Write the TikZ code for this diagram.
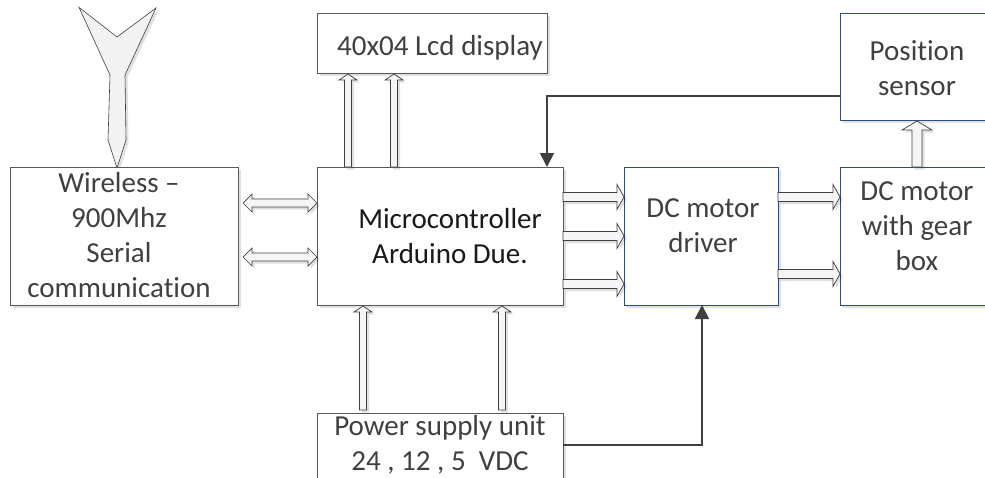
\documentclass[tikz,border=0pt]{standalone}
\usepackage{fontspec}
\setmainfont{Carlito}[Ligatures=CommonOff]
\usetikzlibrary{calc,shadows,arrows.meta}
\definecolor{txt}{HTML}{404040}
\definecolor{blu}{HTML}{2F4B85}
\definecolor{shaftfill}{HTML}{F5F5F5}
\tikzset{
  x=1pt,y=-1pt,
  softshadow/.style={drop shadow={shadow xshift=2.5pt,shadow yshift=-2.5pt,opacity=.12,fill=black}},
  boxg/.style={draw=black!65,line width=.8pt,fill=white,softshadow,anchor=north west,inner sep=0pt},
  boxb/.style={boxg,draw=blu},
  lbl/.style={font=\fontsize{29}{35}\selectfont,text=txt,align=center,inner sep=0pt},
  block/.style={draw=txt,line width=.7pt,fill=shaftfill,line join=miter,softshadow},
  thinarrow/.style={draw=txt,line width=2pt,-{Triangle[length=14pt,width=14pt]}},
}
% #1 from, #2 to, #3 half shaft, #4 half head, #5 head length
\newcommand{\blockarrow}[5]{%
  \coordinate (hb) at ($(#2)!#5!(#1)$);
  \draw[block]
    ($(#1)!#3!90:(#2)$) -- ($(hb)!#3!90:(#2)$) -- ($(hb)!#4!90:(#2)$) -- (#2)
    -- ($(hb)!#4!-90:(#2)$) -- ($(hb)!#3!-90:(#2)$) -- ($(#1)!#3!-90:(#2)$) -- cycle;}
\newcommand{\dblarrow}[5]{%
  \coordinate (ha) at ($(#1)!#5!(#2)$);
  \coordinate (hb) at ($(#2)!#5!(#1)$);
  \draw[block]
    (#1) -- ($(ha)!#4!90:(#2)$) -- ($(ha)!#3!90:(#2)$) -- ($(hb)!#3!-90:(#1)$) -- ($(hb)!#4!-90:(#1)$) -- (#2)
    -- ($(hb)!#4!90:(#1)$) -- ($(hb)!#3!90:(#1)$) -- ($(ha)!#3!-90:(#2)$) -- ($(ha)!#4!-90:(#2)$) -- cycle;}
\begin{document}
\begin{tikzpicture}
\useasboundingbox (0,0) rectangle (985,477);
\clip (0,0) rectangle (985,477);
% antenna
\draw[block,line width=.6pt,fill=black!5] (79,7.3) -- (117,37) -- (156,8) -- (125,75) -- (126,140) -- (117,168) -- (108,140) -- (110,75) -- cycle;
% boxes
\node[boxg,minimum width=228pt,minimum height=138pt] (wl) at (10,167) {};
\node[boxg,minimum width=230pt,minimum height=60pt] (lcd) at (317,13) {};
\node[boxg,minimum width=246pt,minimum height=138pt] (mc) at (317,167) {};
\node[boxb,minimum width=154pt,minimum height=138pt] (drv) at (624,167) {};
\node[boxb,minimum width=170pt,minimum height=138pt] (mot) at (840,167) {};
\node[boxb,minimum width=170pt,minimum height=107pt] (pos) at (840,13) {};
\node[boxg,minimum width=246pt,minimum height=90pt] (psu) at (317,413) {};
% labels
\node[lbl] (wlt) at (119,235) {Wireless --\\900Mhz\\Serial\\communication};
\node[lbl] (lcdt) at (440,48) {40x04 Lcd display};
\node[lbl,text=black!90] (mct) at (450,236) {Microcontroller\\Arduino Due.};
\node[lbl] (drvt) at (703,226) {DC motor\\driver};
\node[lbl] (mott) at (917,226) {DC motor\\with gear\\box};
\node[lbl] (post) at (917,68) {Position\\sensor};
\node[lbl] (psut) at (440,445) {Power supply unit\\24 , 12 , 5 \ VDC};
% block arrow endpoints
\coordinate (a1s) at (348,167); \coordinate (a1e) at (348,74);
\coordinate (a2s) at (394,167); \coordinate (a2e) at (394,74);
\coordinate (b1s) at (243,203); \coordinate (b1e) at (317,203);
\coordinate (b2s) at (243,257); \coordinate (b2e) at (317,257);
\coordinate (c1s) at (563,197); \coordinate (c1e) at (624,197);
\coordinate (c2s) at (563,236); \coordinate (c2e) at (624,236);
\coordinate (c3s) at (563,284); \coordinate (c3e) at (624,284);
\coordinate (d1s) at (778,197); \coordinate (d1e) at (840,197);
\coordinate (d2s) at (778,274); \coordinate (d2e) at (840,274);
\coordinate (es) at (917,167); \coordinate (ee) at (917,121);
\coordinate (f1s) at (363,410); \coordinate (f1e) at (363,306);
\coordinate (f2s) at (502,410); \coordinate (f2e) at (502,306);
\blockarrow{a1s}{a1e}{3.5pt}{9pt}{6pt}
\blockarrow{a2s}{a2e}{3.5pt}{9pt}{6pt}
\dblarrow{b1s}{b1e}{4pt}{9pt}{9pt}
\dblarrow{b2s}{b2e}{4pt}{9pt}{9pt}
\blockarrow{c1s}{c1e}{4.5pt}{12.5pt}{7pt}
\blockarrow{c2s}{c2e}{4.5pt}{12.5pt}{7pt}
\blockarrow{c3s}{c3e}{4.5pt}{12.5pt}{7pt}
\blockarrow{d1s}{d1e}{4.5pt}{12.5pt}{7pt}
\blockarrow{d2s}{d2e}{4.5pt}{12.5pt}{7pt}
\blockarrow{es}{ee}{5pt}{15pt}{9pt}
\blockarrow{f1s}{f1e}{3.5pt}{9pt}{6pt}
\blockarrow{f2s}{f2e}{3.5pt}{9pt}{6pt}
% thin connectors
\coordinate (g1) at (pos.west |- 0,96);
\coordinate (g2) at (547,96);
\coordinate (g3) at (547,167);
\draw[thinarrow] (g1) -- (g2) -- (g3);
\coordinate (h1) at (563,445);
\coordinate (h2) at (702,445);
\coordinate (h3) at (702,305);
\draw[thinarrow] (h1) -- (h2) -- (h3);
\end{tikzpicture}
\end{document}
